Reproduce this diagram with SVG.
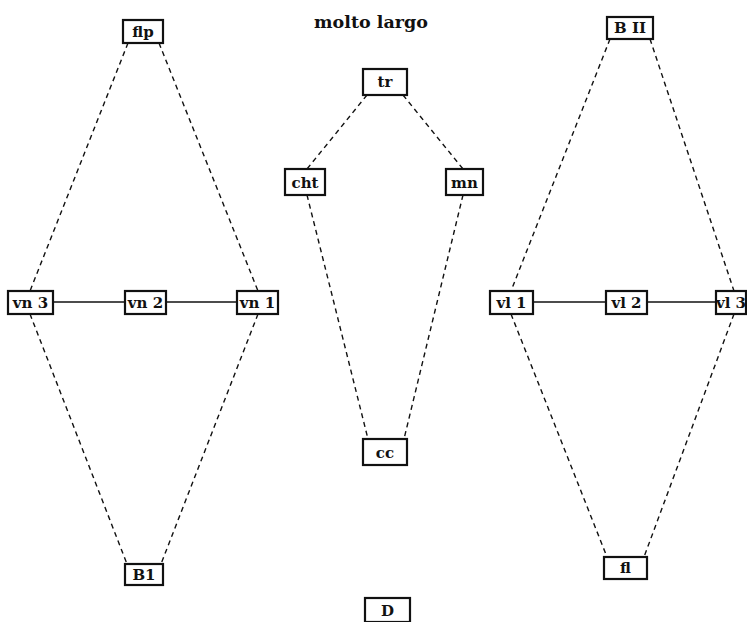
<svg xmlns="http://www.w3.org/2000/svg" width="747" height="622" viewBox="0 0 747 622">
<style>
.box{fill:#fff;stroke:#111;stroke-width:2.2}
.lbl{font-family:"DejaVu Serif","Liberation Serif",serif;font-weight:bold;font-size:15px;fill:#111;text-anchor:middle}
.d{stroke:#111;stroke-width:1.4;stroke-dasharray:5 4;fill:none}
.s{stroke:#111;stroke-width:1.4;fill:none}
</style>
<rect width="747" height="622" fill="#fff"/>
<g id="connectors">
<line class="d" x1="128" y1="43" x2="30" y2="291"/>
<line class="d" x1="159" y1="43" x2="258" y2="291"/>
<line class="d" x1="30" y1="314" x2="127" y2="564"/>
<line class="d" x1="258" y1="314" x2="161" y2="564"/>
<line class="s" x1="53" y1="302" x2="125" y2="302"/>
<line class="s" x1="166" y1="302" x2="237" y2="302"/>
<line class="d" x1="367" y1="95" x2="307" y2="169"/>
<line class="d" x1="403" y1="95" x2="463" y2="169"/>
<line class="d" x1="307" y1="195" x2="368" y2="439"/>
<line class="d" x1="463" y1="195" x2="404" y2="439"/>
<line class="d" x1="610" y1="39" x2="511" y2="291"/>
<line class="d" x1="650" y1="39" x2="734" y2="291"/>
<line class="d" x1="511" y1="314" x2="607" y2="557"/>
<line class="d" x1="734" y1="314" x2="644" y2="557"/>
<line class="s" x1="533" y1="302" x2="606" y2="302"/>
<line class="s" x1="647" y1="302" x2="716" y2="302"/>
</g>
<text class="lbl" x="371" y="28" style="font-size:17.5px">molto largo</text>
<g id="flp"><rect class="box" x="123" y="20" width="40" height="23"/><text class="lbl" x="143" y="37">flp</text></g>
<g id="vn3"><rect class="box" x="8" y="291" width="45" height="23"/><text class="lbl" x="30.5" y="308">vn 3</text></g>
<g id="vn2"><rect class="box" x="125" y="291" width="41" height="23"/><text class="lbl" x="145.5" y="308">vn 2</text></g>
<g id="vn1"><rect class="box" x="237" y="291" width="41" height="23"/><text class="lbl" x="257.5" y="308">vn 1</text></g>
<g id="B1"><rect class="box" x="125" y="564" width="38" height="21"/><text class="lbl" x="144" y="580">B1</text></g>
<g id="tr"><rect class="box" x="363" y="69" width="44" height="26"/><text class="lbl" x="385" y="87">tr</text></g>
<g id="cht"><rect class="box" x="285" y="169" width="40" height="26"/><text class="lbl" x="305" y="188">cht</text></g>
<g id="mn"><rect class="box" x="446" y="169" width="37" height="26"/><text class="lbl" x="464.5" y="188">mn</text></g>
<g id="cc"><rect class="box" x="363" y="439" width="44" height="26"/><text class="lbl" x="385" y="458">cc</text></g>
<g id="D"><rect class="box" x="365" y="598" width="45" height="24"/><text class="lbl" x="387.5" y="616">D</text></g>
<g id="BII"><rect class="box" x="607" y="17" width="46" height="22"/><text class="lbl" x="630" y="33">B II</text></g>
<g id="vl1"><rect class="box" x="490" y="291" width="43" height="23"/><text class="lbl" x="511.5" y="308">vl 1</text></g>
<g id="vl2"><rect class="box" x="606" y="291" width="41" height="23"/><text class="lbl" x="626.5" y="308">vl 2</text></g>
<g id="vl3"><rect class="box" x="716" y="291" width="30" height="23"/><text class="lbl" x="731" y="308">vl 3</text></g>
<g id="fl"><rect class="box" x="604" y="557" width="43" height="22"/><text class="lbl" x="625.5" y="573">fl</text></g>
</svg>
